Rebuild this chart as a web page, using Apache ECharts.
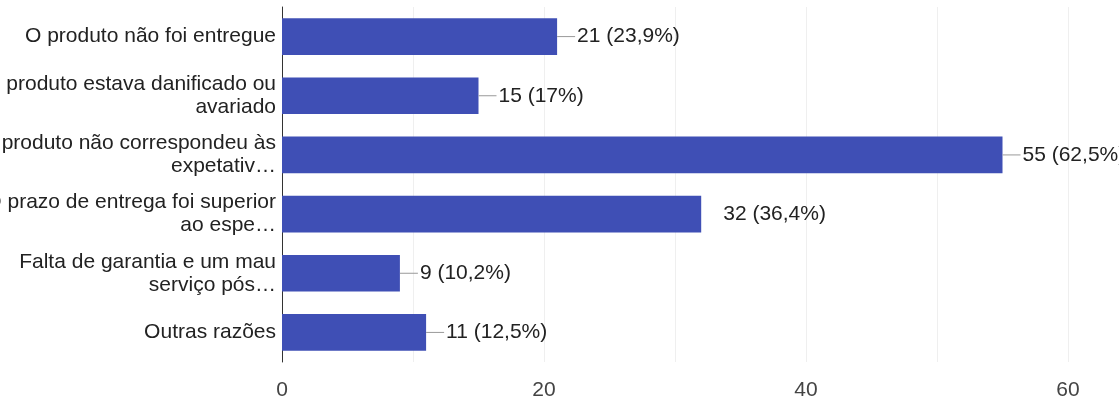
<!DOCTYPE html>
<html><head><meta charset="utf-8">
<script src="https://cdn.jsdelivr.net/npm/echarts@6/dist/echarts.min.js"></script>
<style>html,body{margin:0;padding:0;background:#fff}#c{width:1119px;height:408px}</style>
</head><body><div id="c"></div>
<script>
const categories = [
  "O produto não foi entregue",
  "O produto estava danificado ou\navariado",
  "O produto não correspondeu às\nexpetativ…",
  "O prazo de entrega foi superior\nao espe…",
  "Falta de garantia e um mau\nserviço pós…",
  "Outras razões"
];
const values = [21, 15, 55, 32, 9, 11];
const valueLabels = ["21 (23,9%)", "15 (17%)", "55 (62,5%)", "32 (36,4%)", "9 (10,2%)", "11 (12,5%)"];
const showLeader = [true, true, true, false, true, true];
const xTicks = [0, 20, 40, 60];

const chart = echarts.init(document.getElementById('c'), null, {renderer: 'canvas'});
const font = 'Liberation Sans, Arial, sans-serif';
chart.setOption({
  animation: false,
  grid: {left: 282, right: 51, top: 7, bottom: 46, containLabel: false, outerBoundsMode: 'none'},
  xAxis: {
    type: 'value', min: 0, max: 60, interval: 10,
    axisLine: {show: false}, axisTick: {show: false},
    splitLine: {show: true, lineStyle: {color: '#efefef', width: 1}},
    axisLabel: {
      fontFamily: font, fontSize: 21, color: '#444', margin: 18,
      formatter: v => xTicks.indexOf(v) >= 0 ? String(v) : ''
    }
  },
  yAxis: {
    type: 'category', inverse: true, data: categories,
    axisLine: {show: true, lineStyle: {color: '#333', width: 1}},
    axisTick: {show: false},
    axisLabel: {fontFamily: font, fontSize: 21, color: '#222', margin: 6, lineHeight: 23, align: 'right'}
  },
  series: [{
    type: 'bar',
    data: values.map((v, i) => ({
      value: v,
      label: {
        formatter: '{l|}{t|' + valueLabels[i] + '}',
        rich: {
          l: {width: showLeader[i] ? 18 : 20, height: 1, backgroundColor: showLeader[i] ? '#999' : 'transparent'},
          t: {fontFamily: font, fontSize: 21, color: '#222', padding: [0, 0, 0, 2]}
        }
      }
    })),
    barCategoryGap: '38%',
    itemStyle: {color: '#3f4fb5'},
    label: {show: true, position: 'right', distance: 0}
  }]
});
</script></body></html>
